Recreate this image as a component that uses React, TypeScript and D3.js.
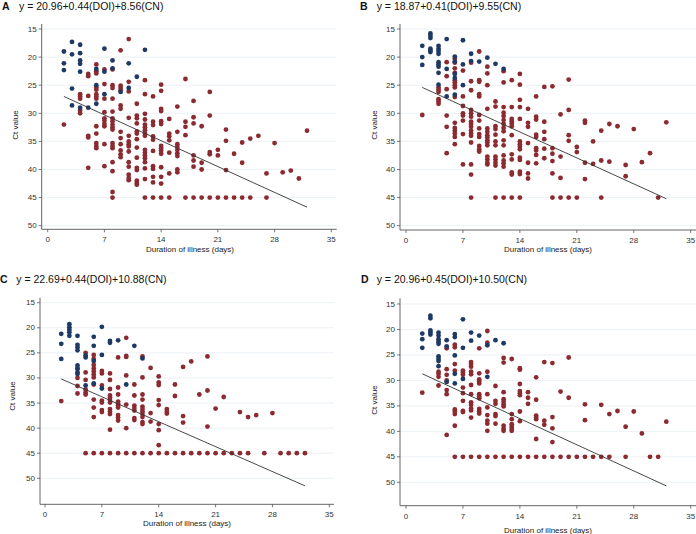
import React from "react";
import * as d3 from "d3";

type Pt = [number, number];

// ---- data (day of illness, Ct value) ----
const xTicks = [0, 7, 14, 21, 28, 35];
const yTicks = [15, 20, 25, 30, 35, 40, 45, 50];
const letters = ["A", "B", "C", "D"];
const equations = [
  "y = 20.96+0.44(DOI)+8.56(CN)",
  "y = 18.87+0.41(DOI)+9.55(CN)",
  "y = 22.69+0.44(DOI)+10.88(CN)",
  "y = 20.96+0.45(DOI)+10.50(CN)",
];

const aBlue: Pt[] = [
  [2, 19.0], [2, 21.1], [2, 22.3], [3, 17.3], [3, 19.5], [3, 25.6], [3, 28.6],
  [4, 17.8], [4, 19.3], [4, 20.6], [4, 21.2], [4, 22.6], [4, 29.0], [5, 29.0],
  [6, 22.1], [6, 25.0], [6, 28.3], [7, 18.5], [7, 22.6], [7, 26.6], [8, 20.6], [8, 22.0],
  [9, 26.2], [10, 21.1], [10, 25.5], [11, 23.5], [12, 18.7],
];
const aRed: Pt[] = [
  [2, 32.0], [4, 26.6], [4, 27.0], [4, 27.4], [4, 29.5], [4, 30.0],
  [5, 23.0], [5, 23.4], [5, 26.9], [5, 34.0], [5, 34.3], [5, 39.7],
  [6, 21.3], [6, 22.5], [6, 22.9], [6, 25.4], [6, 25.8], [6, 26.6], [6, 27.0], [6, 27.4], [6, 32.3], [6, 33.6], [6, 35.3], [6, 35.8], [6, 36.2],
  [7, 22.2], [7, 24.8], [7, 27.4], [7, 29.8], [7, 30.9], [7, 31.3], [7, 31.9], [7, 32.3], [7, 35.5], [7, 39.4],
  [8, 22.2], [8, 25.0], [8, 25.5], [8, 27.4], [8, 29.7], [8, 30.9], [8, 31.4], [8, 32.0], [8, 32.5], [8, 32.9], [8, 35.3], [8, 35.8], [8, 36.2], [8, 38.7], [8, 40.3], [8, 44.0], [8, 45.0],
  [9, 18.8], [9, 25.1], [9, 25.5], [9, 25.9], [9, 28.6], [9, 29.2], [9, 33.3], [9, 34.4], [9, 35.5], [9, 36.6], [9, 37.3], [9, 37.8],
  [10, 16.8], [10, 24.4], [10, 26.1], [10, 30.8], [10, 34.0], [10, 35.0], [10, 35.5], [10, 35.9], [10, 36.8], [10, 38.7], [10, 39.5], [10, 40.9], [10, 41.5], [10, 41.9],
  [11, 28.3], [11, 30.4], [11, 30.9], [11, 31.8], [11, 33.2], [11, 33.6], [11, 34.6], [11, 36.1], [11, 37.9], [11, 39.7], [11, 40.1], [11, 42.0], [11, 42.4], [11, 42.7],
  [12, 24.1], [12, 26.6], [12, 30.1], [12, 31.1], [12, 32.0], [12, 32.5], [12, 33.0], [12, 33.6], [12, 34.0], [12, 36.5], [12, 37.0], [12, 37.5], [12, 38.0], [12, 38.7], [12, 39.8], [12, 41.7], [12, 45.0],
  [13, 27.0], [13, 31.5], [13, 32.1], [13, 34.1], [13, 34.7], [13, 36.7], [13, 39.4], [13, 39.9], [13, 41.3], [13, 42.3], [13, 45.0],
  [14, 24.9], [14, 26.0], [14, 29.2], [14, 29.6], [14, 31.4], [14, 31.9], [14, 35.8], [14, 36.2], [14, 36.6], [14, 37.2], [14, 39.6], [14, 41.3], [14, 42.5], [14, 45.0],
  [15, 31.0], [15, 33.6], [15, 34.1], [15, 34.8], [15, 37.0], [15, 40.7], [15, 45.0],
  [16, 28.8], [16, 33.3], [16, 35.5], [16, 36.0], [16, 36.5], [16, 37.1], [16, 37.6], [16, 40.0], [16, 40.5],
  [17, 23.9], [17, 31.5], [17, 32.4], [17, 33.9], [17, 45.0],
  [18, 27.8], [18, 30.7], [18, 31.8], [18, 37.5], [18, 38.4], [18, 39.5], [18, 45.0],
  [19, 32.3], [19, 38.8], [19, 40.0], [19, 45.0],
  [20, 26.2], [20, 30.4], [20, 36.9], [20, 37.3], [20, 45.0],
  [21, 36.5], [21, 37.5], [21, 45.0], [22, 32.9], [22, 34.9], [22, 40.1], [22, 45.0],
  [23, 37.2], [23, 45.0], [24, 35.2], [24, 38.8], [24, 45.0], [25, 34.5], [25, 45.0],
  [26, 34.0], [27, 40.7], [27, 45.0], [28, 35.3], [29, 40.5], [30, 40.2], [31, 41.6], [32, 33.1],
];

const bBlue: Pt[] = [
  [2, 18.0], [2, 20.0], [2, 21.4], [3, 15.8], [3, 16.2], [3, 16.6], [3, 18.5], [3, 18.8], [3, 19.1],
  [4, 18.0], [4, 18.5], [4, 18.9], [4, 19.4], [4, 20.9], [4, 21.3], [4, 21.7], [4, 22.8], [4, 24.9],
  [5, 16.8], [5, 22.1], [5, 27.0], [6, 19.9], [6, 20.8], [6, 23.0], [6, 23.7], [6, 26.7],
  [7, 17.0], [7, 21.3], [7, 25.0], [8, 19.4], [8, 20.7], [9, 20.8], [10, 20.1], [11, 21.2], [12, 22.1],
];
const bRed: Pt[] = [
  [2, 30.3], [4, 25.4], [4, 25.8], [4, 26.2], [4, 27.5], [4, 27.9], [4, 28.3],
  [5, 20.9], [5, 23.4], [5, 25.7], [5, 30.4], [5, 32.4], [5, 37.1],
  [6, 20.3], [6, 21.0], [6, 22.0], [6, 22.8], [6, 24.1], [6, 24.5], [6, 25.0], [6, 25.4], [6, 27.1], [6, 31.7], [6, 32.6], [6, 33.1], [6, 33.6], [6, 34.2], [6, 35.5],
  [7, 22.4], [7, 27.0], [7, 28.7], [7, 30.0], [7, 30.4], [7, 31.3], [7, 33.7], [7, 39.1],
  [8, 21.0], [8, 24.3], [8, 25.9], [8, 29.4], [8, 30.0], [8, 30.6], [8, 31.5], [8, 31.9], [8, 32.4], [8, 33.1], [8, 33.6], [8, 34.0], [8, 35.2], [8, 39.1], [8, 40.9], [8, 45.0],
  [9, 19.0], [9, 24.1], [9, 24.4], [9, 26.6], [9, 27.0], [9, 30.3], [9, 31.3], [9, 32.7], [9, 33.7], [9, 34.2], [9, 35.8], [9, 36.4], [9, 36.8],
  [10, 21.7], [10, 22.9], [10, 25.0], [10, 29.2], [10, 32.7], [10, 33.3], [10, 33.9], [10, 34.3], [10, 34.8], [10, 35.2], [10, 35.7], [10, 37.7], [10, 38.2], [10, 38.8], [10, 39.1],
  [11, 27.9], [11, 28.8], [11, 32.3], [11, 32.8], [11, 33.8], [11, 35.0], [11, 35.7], [11, 37.7], [11, 38.2], [11, 38.8], [11, 39.3], [11, 45.0],
  [12, 22.5], [12, 24.5], [12, 28.9], [12, 29.9], [12, 30.5], [12, 31.2], [12, 31.9], [12, 32.6], [12, 33.2], [12, 34.8], [12, 35.7], [12, 37.5], [12, 38.4], [12, 38.9], [12, 39.5], [12, 45.0],
  [13, 24.1], [13, 28.9], [13, 31.0], [13, 31.4], [13, 31.8], [13, 32.3], [13, 33.9], [13, 37.3], [13, 38.2], [13, 40.5], [13, 40.9], [13, 45.0],
  [14, 23.0], [14, 24.9], [14, 27.6], [14, 28.9], [14, 31.0], [14, 35.0], [14, 35.5], [14, 35.9], [14, 36.4], [14, 37.9], [14, 38.3], [14, 40.4], [14, 40.8], [14, 45.0],
  [15, 29.2], [15, 31.7], [15, 32.4], [15, 35.3], [15, 38.8], [15, 40.7], [15, 41.6],
  [16, 27.0], [16, 30.6], [16, 31.1], [16, 33.8], [16, 34.2], [16, 36.2], [16, 36.6], [16, 37.4], [16, 38.9],
  [17, 25.3], [17, 31.5], [17, 33.3], [17, 34.6], [17, 36.3], [17, 38.0],
  [18, 25.2], [18, 36.2], [18, 37.2], [18, 38.5], [18, 40.7], [18, 45.0],
  [19, 30.2], [19, 37.7], [19, 41.5], [19, 45.0], [20, 24.0], [20, 29.4], [20, 33.9], [20, 34.9], [20, 45.0],
  [21, 36.0], [21, 36.9], [21, 45.0], [22, 31.3], [22, 31.7], [22, 38.8], [22, 41.7],
  [23, 35.0], [23, 39.0], [24, 33.1], [24, 38.4], [24, 45.0], [25, 31.9], [25, 38.6], [26, 32.3],
  [27, 39.2], [27, 41.2], [28, 32.8], [29, 38.7], [30, 37.1], [31, 45.0], [32, 31.6],
];

const cBlue: Pt[] = [
  [2, 21.2], [2, 23.2], [2, 26.2], [3, 19.3], [3, 19.9], [3, 20.4], [3, 20.9], [3, 21.6],
  [4, 21.6], [4, 23.4], [4, 23.9], [4, 24.5], [4, 27.5], [4, 28.1], [4, 28.9], [4, 29.2],
  [5, 25.5], [5, 25.9], [5, 31.5], [6, 21.8], [6, 23.6], [6, 26.6], [6, 31.1],
  [7, 19.8], [7, 25.4], [7, 32.1], [8, 22.6], [8, 23.0], [9, 22.5], [10, 31.3], [11, 23.6], [12, 26.1],
];
const cRed: Pt[] = [
  [2, 34.6], [4, 28.2], [4, 30.0], [4, 31.6], [4, 33.1],
  [5, 25.0], [5, 28.9], [5, 30.4], [5, 32.3], [5, 32.9], [5, 33.3], [5, 45.0],
  [6, 25.4], [6, 26.2], [6, 27.4], [6, 28.1], [6, 28.7], [6, 29.3], [6, 29.9], [6, 31.3], [6, 34.3], [6, 35.9], [6, 37.8], [6, 45.0],
  [7, 28.6], [7, 29.1], [7, 31.5], [7, 34.5], [7, 34.9], [7, 36.4], [7, 36.8], [7, 45.0],
  [8, 29.1], [8, 30.4], [8, 32.2], [8, 33.5], [8, 33.9], [8, 34.4], [8, 34.9], [8, 36.2], [8, 36.7], [8, 37.2], [8, 40.3], [8, 45.0],
  [9, 25.9], [9, 31.9], [9, 33.3], [9, 34.7], [9, 35.1], [9, 35.5], [9, 35.9], [9, 37.4], [9, 37.9], [9, 38.5], [9, 45.0],
  [10, 22.0], [10, 25.6], [10, 25.8], [10, 29.5], [10, 35.3], [10, 40.0], [10, 45.0],
  [11, 31.3], [11, 33.5], [11, 35.5], [11, 36.0], [11, 36.5], [11, 38.0], [11, 38.4], [11, 45.0],
  [12, 25.7], [12, 29.9], [12, 33.3], [12, 34.3], [12, 35.7], [12, 36.2], [12, 36.7], [12, 37.2], [12, 37.8], [12, 38.8], [12, 39.2], [12, 45.0],
  [13, 28.0], [13, 37.0], [13, 38.7], [13, 45.0],
  [14, 29.7], [14, 30.9], [14, 31.4], [14, 34.4], [14, 35.4], [14, 39.2], [14, 40.4], [14, 43.4], [14, 45.0],
  [15, 36.2], [15, 36.7], [15, 37.1], [15, 45.0], [16, 31.3], [16, 33.6], [16, 45.0],
  [17, 27.8], [17, 37.6], [17, 38.9], [17, 45.0], [18, 26.7], [18, 45.0], [19, 33.3], [19, 45.0],
  [20, 25.7], [20, 32.5], [20, 39.7], [20, 45.0], [21, 36.1], [21, 45.0], [22, 33.8], [22, 45.0],
  [23, 45.0], [24, 36.8], [24, 45.0], [25, 37.8], [25, 45.0], [26, 37.4], [27, 45.0], [28, 37.0],
  [29, 45.0], [30, 45.0], [31, 45.0], [32, 45.0],
];

const dBlue: Pt[] = [
  [2, 20.8], [2, 21.9], [2, 23.6], [3, 17.3], [3, 17.8], [3, 20.2], [3, 20.6], [3, 21.0],
  [4, 20.6], [4, 21.2], [4, 21.9], [4, 22.4], [4, 22.8], [4, 25.3], [4, 25.8], [4, 26.2], [4, 27.2],
  [5, 22.1], [5, 23.3], [5, 30.3], [6, 20.9], [6, 21.5], [6, 25.1], [6, 28.7], [6, 30.6],
  [7, 18.0], [7, 23.6], [7, 29.7], [8, 20.6], [8, 22.2], [9, 21.2], [10, 23.1], [10, 29.3], [11, 22.1], [12, 22.7],
];
const dRed: Pt[] = [
  [2, 32.4], [4, 28.3], [4, 28.7], [4, 29.3], [4, 31.0],
  [5, 23.7], [5, 27.8], [5, 28.9], [5, 30.0], [5, 31.9], [5, 32.7], [5, 40.7],
  [6, 23.0], [6, 23.5], [6, 26.8], [6, 28.1], [6, 35.7], [6, 36.1], [6, 36.6], [6, 38.9], [6, 45.0],
  [7, 28.1], [7, 28.5], [7, 28.9], [7, 31.4], [7, 32.5], [7, 34.0], [7, 36.0], [7, 36.2], [7, 45.0],
  [8, 26.4], [8, 26.8], [8, 27.3], [8, 28.3], [8, 28.8], [8, 30.9], [8, 32.7], [8, 34.3], [8, 34.8], [8, 35.5], [8, 35.9], [8, 37.3], [8, 45.0],
  [9, 23.7], [9, 28.6], [9, 29.8], [9, 30.2], [9, 30.6], [9, 32.7], [9, 33.1], [9, 33.5], [9, 35.6], [9, 36.1], [9, 36.5], [9, 45.0],
  [10, 20.3], [10, 22.6], [10, 28.3], [10, 32.7], [10, 35.3], [10, 36.8], [10, 37.9], [10, 38.5], [10, 39.9], [10, 45.0],
  [11, 31.1], [11, 34.0], [11, 34.6], [11, 36.6], [11, 37.0], [11, 38.5], [11, 45.0],
  [12, 25.6], [12, 26.5], [12, 32.3], [12, 33.7], [12, 34.2], [12, 34.7], [12, 35.1], [12, 38.9], [12, 39.5], [12, 39.9], [12, 45.0],
  [13, 25.8], [13, 36.6], [13, 37.6], [13, 38.6], [13, 39.1], [13, 39.5], [13, 39.9], [13, 45.0],
  [14, 27.6], [14, 27.9], [14, 30.7], [14, 32.1], [14, 32.5], [14, 32.9], [14, 36.1], [14, 38.0], [14, 45.0],
  [15, 32.3], [15, 33.4], [15, 34.6], [15, 45.0],
  [16, 29.4], [16, 33.8], [16, 36.9], [16, 37.3], [16, 37.6], [16, 41.5], [16, 45.0],
  [17, 26.4], [17, 37.9], [17, 38.7], [17, 45.0], [18, 26.6], [18, 37.2], [18, 39.4], [18, 42.1], [18, 45.0],
  [19, 32.2], [19, 45.0], [20, 25.5], [20, 33.4], [20, 45.0], [21, 45.0], [22, 34.7], [22, 37.8], [22, 45.0],
  [23, 45.0], [24, 34.8], [24, 45.0], [25, 36.6], [25, 45.0], [26, 36.0], [27, 39.1], [27, 45.0],
  [28, 36.1], [29, 40.4], [30, 45.0], [31, 45.0], [32, 38.1],
];

// fitted line end points (day, Ct)
const aFit: Pt[] = [[2, 27.0], [32, 46.7]];
const bFit: Pt[] = [[2, 25.4], [32, 45.2]];
const cFit: Pt[] = [[2, 30.2], [32, 51.5]];
const dFit: Pt[] = [[2, 28.7], [32, 50.7]];

const panelBlue = [aBlue, bBlue, cBlue, dBlue];
const panelRed = [aRed, bRed, cRed, dRed];
const panelFit = [aFit, bFit, cFit, dFit];

// ---- layout ----
const layouts = [
  { x0: 47.7, x35: 331.3, y15: 29, y50: 225.7, left: 41.7, right: 336.7, top: 24, bottom: 229.3, head: 10, letterX: 2, eqX: 19, ctX: 15.5, ctY: 125, xtX: 190, xtY: 252 },
  { x0: 406, x35: 690.7, y15: 29, y50: 225.7, left: 400, right: 696, top: 24, bottom: 230, head: 10, letterX: 360, eqX: 376.7, ctX: 374.5, ctY: 125, xtX: 548, xtY: 252 },
  { x0: 45, x35: 329.3, y15: 302.7, y50: 478.3, left: 40, right: 334, top: 297.7, bottom: 504.3, head: 283, letterX: 0, eqX: 16.3, ctX: 12.7, ctY: 396, xtX: 187, xtY: 526 },
  { x0: 406, x35: 690.7, y15: 304, y50: 482.3, left: 400, right: 696, top: 298.3, bottom: 505.7, head: 283, letterX: 361, eqX: 376.7, ctX: 374.5, ctY: 400, xtX: 548, xtY: 533 },
];

const BLUE = "#1e3a64";
const RED = "#8b2b31";
const FONT = "'Liberation Sans', Arial, sans-serif";

function Panel({ i }: { i: number }) {
  const L = layouts[i];
  const x = d3.scaleLinear().domain([0, 35]).range([L.x0, L.x35]);
  const y = d3.scaleLinear().domain([15, 50]).range([L.y15, L.y50]);
  const line = d3.line<Pt>().x((d) => x(d[0])).y((d) => y(d[1]));

  return (
    <g fontFamily={FONT}>
      <text x={L.letterX} y={L.head} fontSize={10.5} fontWeight="bold" fill="#111">{letters[i]}</text>
      <text x={L.eqX} y={L.head} fontSize={10.5} fill="#111">{equations[i]}</text>

      {/* gridlines */}
      {yTicks.map((t) => (
        <line key={"g" + t} x1={L.left} x2={L.right} y1={y(t)} y2={y(t)} stroke="#e6eef3" strokeWidth={0.8} />
      ))}

      {/* axes */}
      <line x1={L.left} x2={L.left} y1={L.top} y2={L.bottom} stroke="#555" strokeWidth={0.9} />
      <line x1={L.left} x2={L.right} y1={L.bottom} y2={L.bottom} stroke="#555" strokeWidth={0.9} />
      {yTicks.map((t) => (
        <g key={"y" + t}>
          <line x1={L.left - 3} x2={L.left} y1={y(t)} y2={y(t)} stroke="#555" strokeWidth={0.8} />
          <text x={L.left - 5} y={y(t)} fontSize={8} textAnchor="end" dominantBaseline="central" fill="#333">{t}</text>
        </g>
      ))}
      {xTicks.map((t) => (
        <g key={"x" + t}>
          <line x1={x(t)} x2={x(t)} y1={L.bottom} y2={L.bottom + 3} stroke="#555" strokeWidth={0.8} />
          <text x={x(t)} y={L.bottom + 13} fontSize={8} textAnchor="middle" fill="#333">{t}</text>
        </g>
      ))}
      <text x={L.xtX} y={L.xtY} fontSize={8} textAnchor="middle" fill="#222">Duration of illness (days)</text>
      <text transform={`translate(${L.ctX},${L.ctY}) rotate(-90)`} fontSize={8} textAnchor="middle" dominantBaseline="central" fill="#222">Ct value</text>

      {/* points */}
      {panelRed[i].map((d, k) => (
        <circle key={"r" + k} cx={x(d[0])} cy={y(d[1])} r={2.4} fill={RED} />
      ))}
      {panelBlue[i].map((d, k) => (
        <circle key={"b" + k} cx={x(d[0])} cy={y(d[1])} r={2.4} fill={BLUE} />
      ))}

      {/* fitted line */}
      <path d={line(panelFit[i]) || ""} fill="none" stroke="#333" strokeWidth={0.9} />
    </g>
  );
}

export default function App() {
  return (
    <svg width={696} height={534} style={{ position: "absolute", left: 0, top: 0, background: "#fff" }}>
      {[0, 1, 2, 3].map((i) => (
        <Panel key={i} i={i} />
      ))}
    </svg>
  );
}
